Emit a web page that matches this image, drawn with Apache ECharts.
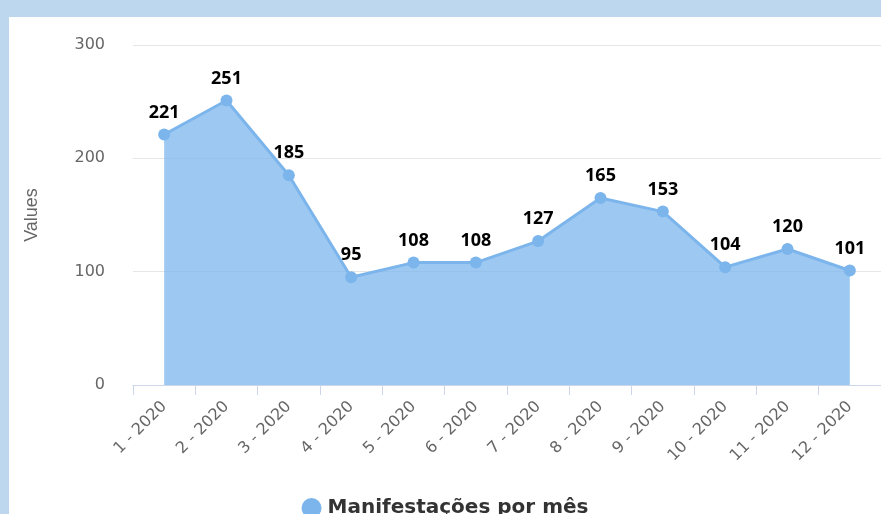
<!DOCTYPE html>
<html>
<head>
<meta charset="utf-8">
<script src="https://cdn.jsdelivr.net/npm/echarts@6/dist/echarts.min.js"></script>
<style>
	html,body{margin:0;padding:0;width:881px;height:514px;overflow:hidden;background:#bdd7ee;}
	#mnf{position:absolute;left:9px;top:17px;width:872px;height:497px;background:#fff;}
</style>
</head>
<body>
<div id="mnf"></div>
<script>
	// meses e valores
	var meses = ['1 - 2020','2 - 2020','3 - 2020','4 - 2020','5 - 2020','6 - 2020','7 - 2020','8 - 2020','9 - 2020','10 - 2020','11 - 2020','12 - 2020']
	var valores = [221,251,185,95,108,108,127,165,153,104,120,101]
	var serieNome = 'Manifestações por mês'

	var chart = echarts.init(document.getElementById('mnf'))
	var option = {
		animation:false,
		legend:{
			data:[serieNome],
			left:'center',
			top:476,
			icon:'circle',
			itemWidth:22,
			itemHeight:20,
			itemGap:14,
			textStyle:{
				fontFamily:'DejaVu Sans',
				fontWeight:'bold',
				fontSize:20,
				color:'#333'
			}
		},
		grid:{
			left:124,
			top:28,
			width:751,
			height:340
		},
		xAxis:{
			type:'category',
			data:meses,
			boundaryGap:true,
			axisLine:{lineStyle:{color:'#ccd6eb',width:1}},
			axisTick:{show:true,length:10,lineStyle:{color:'#ccd6eb'}},
			axisLabel:{
				rotate:45,
				margin:19,
				interval:0,
				fontFamily:'DejaVu Sans',
				fontSize:16,
				color:'#666'
			}
		},
		yAxis:{
			type:'value',
			min:0,
			max:300,
			interval:100,
			name:'Values',
			nameLocation:'middle',
			nameGap:92,
			nameTextStyle:{
				fontFamily:'Liberation Sans Narrow, Liberation Sans',
				fontSize:18,
				color:'#666'
			},
			axisLine:{show:false},
			axisTick:{show:false},
			axisLabel:{
				margin:28,
				fontFamily:'DejaVu Sans',
				fontSize:16,
				color:'#666'
			},
			splitLine:{lineStyle:{color:'#e6e6e6',width:1}}
		},
		series:[{
			name:serieNome,
			type:'line',
			data:valores,
			symbol:'circle',
			symbolSize:12,
			itemStyle:{color:'#7cb5ec'},
			lineStyle:{color:'#7cb5ec',width:3},
			areaStyle:{color:'#7cb5ec',opacity:0.75},
			label:{
				show:true,
				position:'top',
				distance:7,
				fontFamily:'Open Sans',
				fontWeight:'bold',
				fontSize:18,
				color:'#000'
			}
		}]
	}
	chart.setOption(option)
</script>
</body>
</html>
